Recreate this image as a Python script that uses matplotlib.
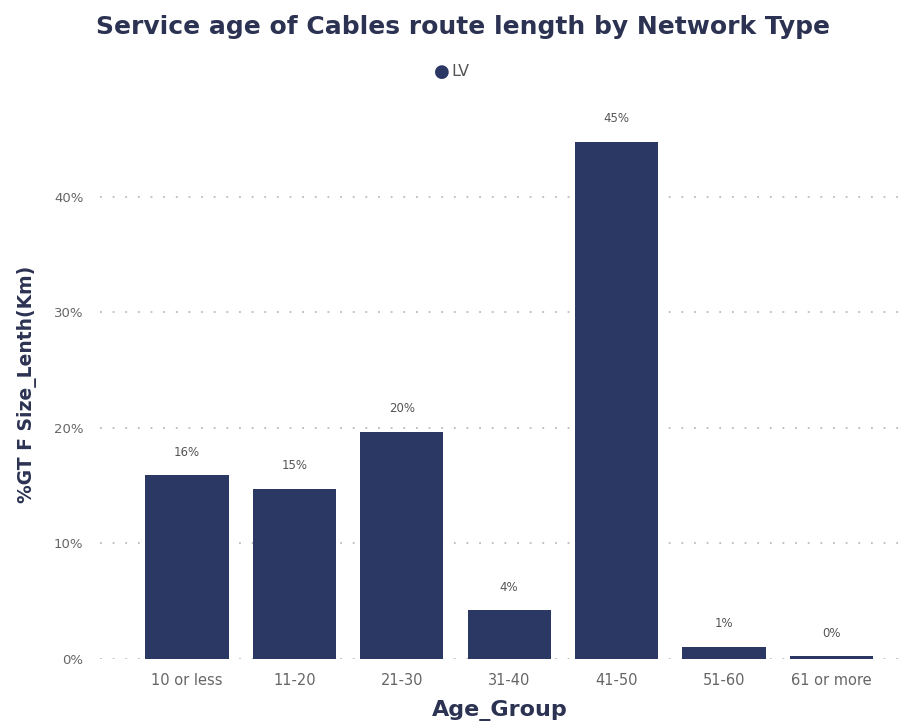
import matplotlib
matplotlib.use("Agg")
import matplotlib.pyplot as plt
from matplotlib.ticker import FuncFormatter

categories = ["10 or less", "11-20", "21-30", "31-40", "41-50", "51-60", "61 or more"]
values = [15.9, 14.7, 19.65, 4.2, 44.75, 1.05, 0.22]
labels = ["16%", "15%", "20%", "4%", "45%", "1%", "0%"]
yticks = [0, 10, 20, 30, 40]

W, H = 903, 722
fig = plt.figure(figsize=(W / 100, H / 100), dpi=100)
plt.rcParams['font.family'] = ['DejaVu Sans']

bar_color = "#2B3863"
title_color = "#2B3252"
tick_color = "#666666"

# axes in pixel coords
ax_left, ax_right, ax_bottom, ax_top = 100, 900, 659, 110
ax = fig.add_axes([ax_left / W, 1 - ax_bottom / H, (ax_right - ax_left) / W, (ax_bottom - ax_top) / H])

x = list(range(len(categories)))
ax.bar(x, values, width=0.775, color=bar_color, zorder=3)
ax.set_xlim(-0.81, 6.64)
ax.set_ylim(0, 47.5)

for xi, v, lab in zip(x, values, labels):
    ax.annotate(lab, (xi, v), xytext=(0, 12), textcoords="offset points",
                ha="center", va="bottom", fontsize=8.5, color="#555555")

ax.set_yticks(yticks)
ax.yaxis.set_major_formatter(FuncFormatter(lambda v, p: f"{int(v)}%"))
ax.set_xticks(x)
ax.set_xticklabels(categories)
ax.tick_params(axis="both", length=0, labelcolor=tick_color)
ax.tick_params(axis="y", pad=12, labelsize=9.5)
ax.tick_params(axis="x", pad=10, labelsize=10.5)
ax.grid(axis="y", linestyle=(0, (1, 6)), color="#BBBBBB", linewidth=1.3, zorder=0)
for s in ax.spines.values():
    s.set_visible(False)

ax.set_xlabel("Age_Group", fontsize=16, fontweight="bold", color=title_color, labelpad=9)
ax.set_ylabel("%GT F Size_Lenth(Km)", fontsize=13.5, fontweight="bold", color=title_color, labelpad=12)

fig.text(463 / W, 1 - 27 / H, "Service age of Cables route length by Network Type",
         ha="center", va="center", fontsize=18, fontweight="bold", color=title_color)
fig.text(450 / W, 1 - 72 / H, "●", ha="right", va="center", fontsize=13, color=bar_color)
fig.text(451 / W, 1 - 72 / H, "LV", ha="left", va="center", fontsize=11.5, color="#555555")

fig.savefig("out.png", dpi=100)
